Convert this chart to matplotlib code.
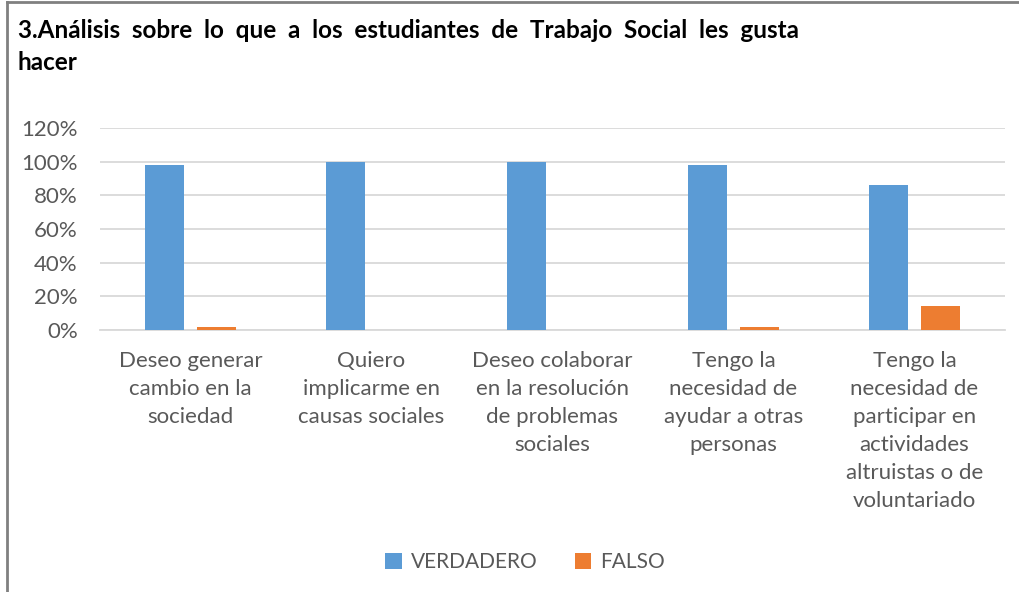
import numpy as np
import matplotlib.pyplot as plt

# Data
categories = [
    "Deseo generar\ncambio en la\nsociedad",
    "Quiero\nimplicarme en\ncausas sociales",
    "Deseo colaborar\nen la resolución\nde problemas\nsociales",
    "Tengo la\nnecesidad de\nayudar a otras\npersonas",
    "Tengo la\nnecesidad de\nparticipar en\nactividades\naltruistas o de\nvoluntariado",
]
verdadero = [98, 100, 100, 98, 86]
falso = [2, 0, 0, 2, 14]
yticks = [0, 20, 40, 60, 80, 100, 120]

blue = "#5b9bd5"
orange = "#ed7d31"
text_gray = "#595959"
grid_gray = "#d9d9d9"

plt.rcParams["font.family"] = ["Lato", "DejaVu Sans"]

fig = plt.figure(figsize=(10.2, 5.92), dpi=100)
ax = fig.add_axes([100 / 1020, 1 - 330 / 592, 905 / 1020, 202 / 592])

x = np.arange(len(categories))
w = 0.22
ax.bar(x - 0.144, verdadero, width=w, color=blue, label="VERDADERO", zorder=3)
ax.bar(x + 0.144, falso, width=w, color=orange, label="FALSO", zorder=3)

ax.set_xlim(-0.5, len(categories) - 0.5)
ax.set_ylim(0, 120)
ax.set_yticks(yticks)
ax.set_yticklabels([f"{v}%" for v in yticks], fontsize=16, color=text_gray)
ax.yaxis.grid(True, color=grid_gray, linewidth=1.3, zorder=0)
ax.set_xticks(x)
ax.set_xticklabels(categories, fontsize=16, color=text_gray, linespacing=1.5, va="top")
ax.tick_params(axis="both", length=0)
ax.tick_params(axis="x", pad=15)
ax.tick_params(axis="y", pad=16)
for s in ["top", "right", "left"]:
    ax.spines[s].set_visible(False)
ax.spines["bottom"].set_color(grid_gray)
ax.spines["bottom"].set_linewidth(1.3)

# Title
fig.text(18 / 1020, 1 - 30 / 592,
         "3.Análisis  sobre  lo  que  a  los  estudiantes  de  Trabajo  Social  les  gusta",
         fontsize=17.5, fontweight="bold", color="black", va="center", ha="left")
fig.text(18 / 1020, 1 - 63 / 592, "hacer",
         fontsize=17.5, fontweight="bold", color="black", va="center", ha="left")

# Legend
fig.legend(loc="center", bbox_to_anchor=(525 / 1020, 1 - 562 / 592), ncol=2,
           frameon=False, fontsize=15, labelcolor=text_gray, handlelength=0.8,
           handleheight=0.8, handletextpad=0.4, columnspacing=1.8)

# Outer border (top and left)
fig.add_artist(plt.Line2D([7 / 1020, 7 / 1020], [0, 1 - 2 / 592], transform=fig.transFigure,
                          color="#808080", linewidth=2))
fig.add_artist(plt.Line2D([7 / 1020, 1], [1 - 2 / 592, 1 - 2 / 592], transform=fig.transFigure,
                          color="#808080", linewidth=2))

fig.savefig("out.png", dpi=100)
